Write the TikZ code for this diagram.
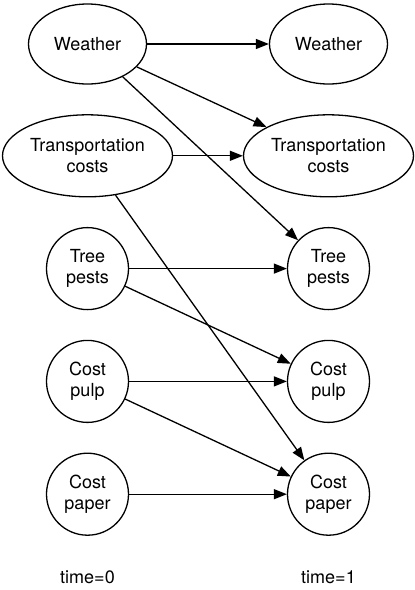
\documentclass[tikz,border=0pt]{standalone}
\usepackage{fontspec}
\setmainfont{TeX Gyre Heros}
\usepackage{tikz}
\usetikzlibrary{arrows.meta,positioning,shapes.geometric}

\begin{document}
\begin{tikzpicture}[font=\fontsize{18}{21.5}\selectfont, >={Triangle[length=13pt,width=10pt]},
  every node/.style={align=center},
  oval/.style={draw, ellipse, line width=1.3pt, inner sep=0pt, minimum width=118pt, minimum height=80pt},
  wide/.style={draw, ellipse, line width=1.3pt, inner sep=0pt, minimum width=170pt, minimum height=82pt},
  circ/.style={draw, circle, line width=1.3pt, inner sep=0pt, minimum size=82pt},
  ar/.style={->, line width=1.3pt}]
\useasboundingbox (-87.5pt,44pt) rectangle (327.5pt,-546pt);
% time=0
\node[oval] (weather0) at (0,0) {Weather};
\node[wide, below=29.5pt of weather0] (trans0) {Transportation\\costs};
\node[circ, below=29.5pt of trans0] (pests0) {Tree\\pests};
\node[circ, below=29.5pt of pests0] (pulp0) {Cost\\pulp};
\node[circ, below=29.5pt of pulp0] (paper0) {Cost\\paper};
% time=1
\node[oval] (weather1) at ([xshift=241pt]weather0.center) {Weather};
\node[wide] (trans1) at (trans0.center -| weather1.center) {Transportation\\costs};
\node[circ] (pests1) at (pests0.center -| weather1.center) {Tree\\pests};
\node[circ] (pulp1) at (pulp0.center -| weather1.center) {Cost\\pulp};
\node[circ] (paper1) at (paper0.center -| weather1.center) {Cost\\paper};
\node[inner sep=0pt, below=35pt of paper0] (time0) {time=0};
\node[inner sep=0pt, below=35pt of paper1] (time1) {time=1};
\draw[ar] (weather0)--(weather1); \draw[ar] (weather0)--(trans1); \draw[ar] (weather0)--(pests1);
\draw[ar] (trans0)--(trans1); \draw[ar] (trans0)--(paper1);
\draw[ar] (pests0)--(pests1); \draw[ar] (pests0)--(pulp1);
\draw[ar] (pulp0)--(pulp1); \draw[ar] (pulp0)--(paper1);
\draw[ar] (paper0)--(paper1);
\end{tikzpicture}
\end{document}
